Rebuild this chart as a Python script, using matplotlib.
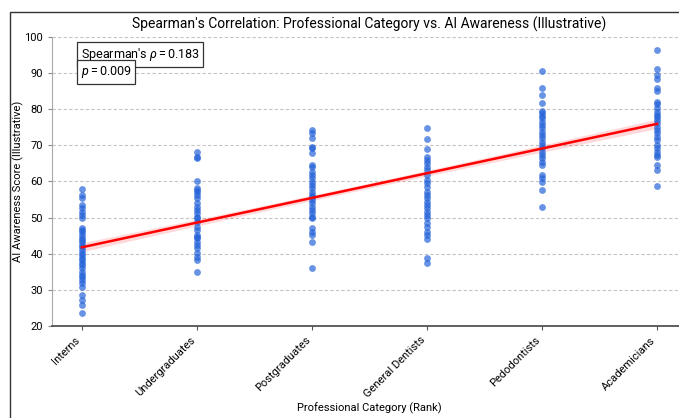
import numpy as np
import matplotlib
matplotlib.use("Agg")
import matplotlib.pyplot as plt
from matplotlib.patches import Rectangle

plt.rcParams['font.family'] = ['Roboto', 'DejaVu Sans']
plt.rcParams['mathtext.fontset'] = 'custom'
plt.rcParams['mathtext.rm'] = 'Roboto'
plt.rcParams['mathtext.it'] = 'Roboto:italic'

categories = ["Interns", "Undergraduates", "Postgraduates", "General Dentists",
              "Pedodontists", "Academicians"]

interns = [57.8, 56.3, 55.3, 53.5, 52.6, 51.6, 50.7, 49.8, 47.0, 46.6, 46.0, 45.2,
           44.3, 43.8, 43.3, 42.4, 41.8, 41.0, 40.2, 39.7, 38.9, 38.3, 37.5, 36.9,
           36.0, 35.0, 34.2, 33.6, 32.7, 31.8, 30.9, 28.6, 27.2, 25.8, 23.5]
undergraduates = [68.3, 66.9, 66.4, 60.0, 58.1, 57.6, 57.1, 56.3, 55.3, 54.0, 53.0,
                  52.1, 51.2, 50.3, 49.8, 48.9, 47.5, 46.6, 45.2, 44.7, 44.3, 43.3,
                  42.4, 41.5, 40.1, 39.2, 38.3, 35.0]
postgraduates = [74.3, 73.3, 72.0, 69.6, 69.2, 67.8, 64.6, 64.1, 62.7, 61.8, 60.9,
                 59.9, 59.0, 58.1, 57.2, 56.3, 55.8, 54.9, 54.0, 53.0, 52.1, 51.2,
                 50.3, 49.8, 47.0, 46.1, 45.2, 43.3, 36.0]
general_dentists = [74.9, 71.8, 68.9, 66.9, 66.0, 65.0, 64.1, 63.2, 61.8, 60.4, 59.5,
                    58.6, 57.2, 56.3, 55.3, 54.4, 53.5, 52.6, 51.6, 50.7, 49.8, 48.4,
                    47.5, 46.1, 45.2, 44.0, 38.7, 37.4]
pedodontists = [90.7, 86.0, 83.9, 81.8, 79.5, 78.9, 78.2, 77.5, 76.6, 75.6, 74.7,
                73.8, 72.9, 72.0, 71.0, 70.1, 69.2, 68.2, 67.3, 66.4, 65.5, 64.6,
                61.8, 60.9, 59.9, 57.6, 53.0]
academicians = [96.4, 91.1, 89.5, 88.3, 85.8, 85.1, 82.1, 81.5, 80.3, 79.3, 78.4,
                77.8, 77.0, 76.1, 75.2, 74.3, 73.3, 72.4, 71.5, 70.1, 69.2, 68.2,
                67.3, 66.9, 64.6, 63.2, 58.8]

groups = [interns, undergraduates, postgraduates, general_dentists, pedodontists, academicians]
rho_text = r"Spearman's $\rho = 0.183$"
p_text = r"$p = 0.009$"

x = np.concatenate([np.full(len(g), i, dtype=float) for i, g in enumerate(groups)])
y = np.concatenate([np.asarray(g, dtype=float) for g in groups])

fig = plt.figure(figsize=(6.79, 4.18), dpi=100)
ax = fig.add_axes([52/679, 1-326/418, 635/679, 289/418])

# outer screenshot frame
fig.patches.append(Rectangle((10/679, -0.1), 1.2, 1-12/418+0.1, transform=fig.transFigure,
                             fill=False, ec='#333333', lw=1.0))

ax.scatter(x, y, s=24, color='#2060d8', alpha=0.68, linewidths=0, zorder=3)

# regression line with confidence band
slope, intercept = np.polyfit(x, y, 1)
xs = np.linspace(0, len(groups)-1, 100)
ys = intercept + slope*xs
n = len(x)
resid = y - (intercept + slope*x)
s = np.sqrt(np.sum(resid**2)/(n-2))
sxx = np.sum((x - x.mean())**2)
se = s*np.sqrt(1/n + (xs - x.mean())**2/sxx)
ax.fill_between(xs, ys-1.0*se, ys+1.0*se, color='red', alpha=0.15, lw=0, zorder=2)
ax.plot(xs, ys, color='red', lw=1.8, zorder=4)

ax.set_xlim(-0.26, len(groups)-1+0.26)
ax.set_ylim(20, 100)
ax.set_yticks(np.arange(20, 101, 10))
ax.set_xticks(range(len(groups)))
ax.set_xticklabels(categories, rotation=45, ha='right', fontsize=8)
ax.tick_params(axis='y', labelsize=8, length=3, color='#888888')
ax.tick_params(axis='x', length=3, color='#555555')
ax.grid(axis='y', linestyle=(0, (3, 2)), color='#c4c4c4', lw=0.8, zorder=0)
ax.set_axisbelow(True)

for sp in ['top', 'right']:
    ax.spines[sp].set_visible(False)
ax.spines['left'].set_color('#aaaaaa')
ax.spines['bottom'].set_color('#444444')
ax.spines['bottom'].set_linewidth(1.2)

ax.set_title("Spearman's Correlation: Professional Category vs. AI Awareness (Illustrative)",
             fontsize=10, pad=6)
ax.set_xlabel("Professional Category (Rank)", fontsize=8, labelpad=2)
ax.set_ylabel("AI Awareness Score (Illustrative)", fontsize=8)
ax.yaxis.set_label_coords(-28/635, 0.5)

bbox = dict(boxstyle='square,pad=0.3', fc='white', ec='#333333', lw=0.9)
ax.text(0.045, 0.968, rho_text, transform=ax.transAxes, fontsize=9, va='top', ha='left',
        bbox=bbox, zorder=6)
ax.text(0.045, 0.906, p_text, transform=ax.transAxes, fontsize=9, va='top', ha='left',
        bbox=bbox, zorder=6)

fig.savefig("out.png", dpi=100)
